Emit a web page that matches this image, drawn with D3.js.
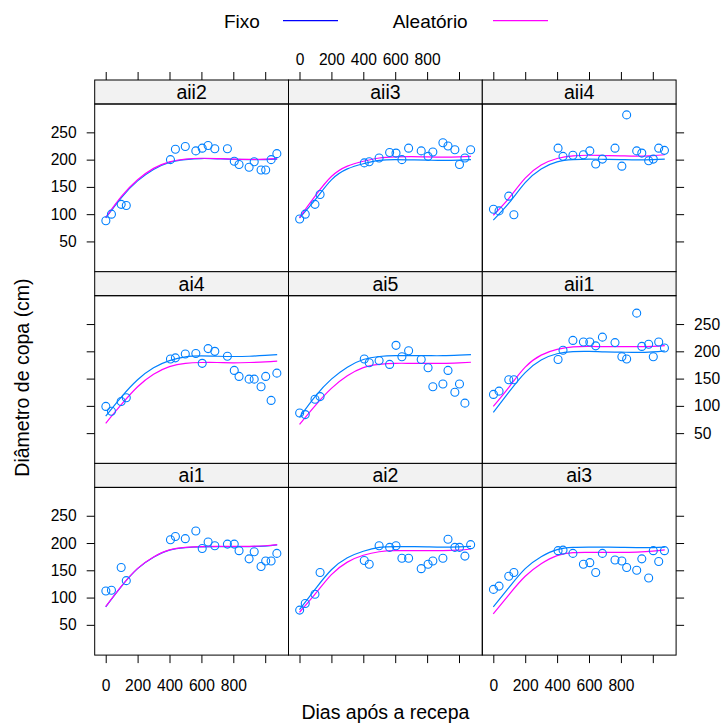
<!DOCTYPE html>
<html>
<head>
<meta charset="utf-8">
<script src="https://cdn.jsdelivr.net/npm/d3@7"></script>
<style>
  html, body { margin: 0; padding: 0; background: #fff; }
  svg { display: block; font-family: "Liberation Sans", Arial, Helvetica, sans-serif; }
</style>
</head>
<body>
<svg id="chart" width="725" height="723"></svg>
<script>
// ---------------- DATA ----------------
const panelNames = ["ai1", "ai2", "ai3", "ai4", "ai5", "aii1", "aii2", "aii3", "aii4"];
// layout rows from top
const panelRows = [["aii2", "aii3", "aii4"], ["ai4", "ai5", "aii1"], ["ai1", "ai2", "ai3"]];

const days = [1, 36, 97, 129, 406, 437, 499, 565, 605, 642, 684, 763, 806, 836, 899, 931, 974, 1003, 1037, 1073];

const obs_ai1  = [112, 113.5, 155, 131, 206, 212, 208, 222, 190, 202, 195, 198, 198, 186, 171, 184, 157, 167, 167, 181];
const obs_ai2  = [77, 89, 106, 146, 168, 161, 195, 192, 195, 172, 172, 153, 161, 167, 172, 207, 192, 192, 176, 197];
const obs_ai3  = [115, 121, 139, 146, 186, 187, 181, 161, 164, 146, 181, 169, 167, 155, 150, 171, 136, 186, 166, 186];
const obs_ai4  = [99, 90, 108, 115, 186, 188, 195, 196, 178, 205, 200, 191, 165, 154, 149, 149, 135, 154, 110, 160];
const obs_ai5  = [87, 84, 112, 117, 186, 179, 183, 176, 211, 190, 201, 185, 170, 135, 140, 165, 125, 140, 105, null];
const obs_aii1 = [121, 127, 148, 148, 185, 202, 220, 217, 217, 210, 226, 216, 190, 186, 270, 209, 213, 190, 217, 206];
const obs_aii2 = [88, 100, 118, 116, 200, 219, 224, 216, 221, 226, 220, 220, 197, 191, 186, 196, 181, 181, 200, 211];
const obs_aii3 = [91, 100, 118, 136, 194, 196, 203, 213, 212, 200, 221, 216, 206, 214, 231, 225, 218, 191, 203, 218];
const obs_aii4 = [109, 106, 133, 99, 221, 206, 208, 209, 216, 192, 201, 221, 188, 282, 216, 212, 198, 201, 221, 217];

const curveDays = [0, 100, 200, 300, 400, 500, 600, 700, 800, 900, 1000, 1075];

const fixo_ai1  = [83, 121, 153, 174, 187, 191.5, 193, 193.5, 193.5, 193.5, 194.5, 196.5];
const fixo_ai2  = [78, 116, 151, 173, 185, 192, 193.5, 193.5, 193, 192.5, 193, 194];
const fixo_ai3  = [83, 119, 153, 175, 188, 192, 192.5, 192.5, 192, 191.5, 191.5, 192.5];
const fixo_ai4  = [81, 117, 148, 170, 183, 190, 191.5, 191, 190.5, 191, 192.5, 194];
const fixo_ai5  = [79, 118, 149, 171, 185, 190.5, 192, 192, 192, 192, 193, 194];
const fixo_aii1 = [88, 126, 161, 184, 195.5, 199.5, 200, 199, 198.5, 198, 199, 201];
const fixo_aii2 = [93, 131, 161, 182, 195, 200, 202, 201.5, 200.5, 200, 200, 201];
const fixo_aii3 = [93, 127, 163, 183, 192.5, 198.5, 200, 199.5, 199, 198.5, 199, 200];
const fixo_aii4 = [89, 121, 158, 183, 196, 200, 201, 200.5, 200, 199.5, 200, 201];

const aleat_ai1  = [83.5, 121.5, 153.5, 174.5, 187.5, 192, 193.5, 194, 194, 194, 195, 197];
const aleat_ai2  = [73, 107, 142, 165, 177.5, 184, 186, 186, 186, 186, 187, 189];
const aleat_ai3  = [70, 106, 139, 162, 177, 182.5, 183, 183, 183, 183.5, 185, 187.5];
const aleat_ai4  = [68, 103, 135, 158, 172, 178, 179.5, 179.5, 179, 179.5, 180.5, 182];
const aleat_ai5  = [66, 101, 132, 155, 170, 176, 178, 178, 178, 178, 179, 180];
const aleat_aii1 = [99, 135, 171, 193, 203.5, 208, 209, 208.5, 208.5, 208.5, 209, 210.5];
const aleat_aii2 = [94, 133, 163, 184, 196, 201, 202.5, 202, 201, 200.5, 201, 202];
const aleat_aii3 = [94, 134, 169, 188, 197, 203, 205, 205.5, 205, 204.5, 205, 206];
const aleat_aii4 = [98, 130, 166, 190, 202, 207, 208, 207.5, 207, 206.5, 207.5, 209];

const xTickValues = [0, 200, 400, 600, 800, 1000];
const xTickLabels = ["0", "200", "400", "600", "800", ""];
const yTickValues = [50, 100, 150, 200, 250];
const yTickLabels = ["50", "100", "150", "200", "250"];

const legendLabels = ["Fixo", "Aleatório"];
const xTitle = "Dias após a recepa";
const yTitle = "Diâmetro de copa (cm)";

// ---------------- TABLES ----------------
const obsByPanel = {ai1: obs_ai1, ai2: obs_ai2, ai3: obs_ai3, ai4: obs_ai4, ai5: obs_ai5,
  aii1: obs_aii1, aii2: obs_aii2, aii3: obs_aii3, aii4: obs_aii4};
const fixoByPanel = {ai1: fixo_ai1, ai2: fixo_ai2, ai3: fixo_ai3, ai4: fixo_ai4, ai5: fixo_ai5,
  aii1: fixo_aii1, aii2: fixo_aii2, aii3: fixo_aii3, aii4: fixo_aii4};
const aleatByPanel = {ai1: aleat_ai1, ai2: aleat_ai2, ai3: aleat_ai3, ai4: aleat_ai4, ai5: aleat_ai5,
  aii1: aleat_aii1, aii2: aleat_aii2, aii3: aleat_aii3, aii4: aleat_aii4};

// ---------------- LAYOUT ----------------
const colX0 = 94.7, colW = 193.8;
const rowY0 = 80, rowH = 191.7, stripH = 24;
const xDomain = [-69, 1146];
const yDomain = [-5.5, 302];
const tickFont = 15.6, mainFont = 19.5;
const pointColor = "#0080ff", fixoColor = "#0080ff", aleatColor = "#ff00ff", legendFixo = "#0000ff";

const svg = d3.select("#chart");

const xScales = [0, 1, 2].map(c => d3.scaleLinear().domain(xDomain).range([colX0 + c * colW, colX0 + (c + 1) * colW]));
const yScales = [0, 1, 2].map(r => d3.scaleLinear().domain(yDomain).range([rowY0 + (r + 1) * rowH, rowY0 + r * rowH + stripH]));

const line = (xs, ys) => d3.line()
  .x(d => xs(d[0])).y(d => ys(d[1]))
  .curve(d3.curveNatural);

panelRows.forEach((row, r) => {
  row.forEach((name, c) => {
    const xs = xScales[c], ys = yScales[r];
    const x0 = colX0 + c * colW, y0 = rowY0 + r * rowH;
    const g = svg.append("g");
    // clip
    const clipId = "clip_" + name;
    svg.append("clipPath").attr("id", clipId).append("rect")
      .attr("x", x0).attr("y", y0 + stripH).attr("width", colW).attr("height", rowH - stripH);
    const inner = g.append("g").attr("clip-path", `url(#${clipId})`);

    const fit1 = curveDays.map((d, i) => [d, fixoByPanel[name][i]]);
    const fit2 = curveDays.map((d, i) => [d, aleatByPanel[name][i]]);
    inner.append("path").attr("d", line(xs, ys)(fit1)).attr("fill", "none")
      .attr("stroke", fixoColor).attr("stroke-width", 1.2);
    inner.append("path").attr("d", line(xs, ys)(fit2)).attr("fill", "none")
      .attr("stroke", aleatColor).attr("stroke-width", 1.2);

    const pts = days.map((d, i) => [d, obsByPanel[name][i]]).filter(p => p[1] != null);
    inner.selectAll("circle").data(pts).join("circle")
      .attr("cx", d => xs(d[0])).attr("cy", d => ys(d[1])).attr("r", 4)
      .attr("fill", "none").attr("stroke", pointColor).attr("stroke-width", 1.1);

    // strip
    g.append("rect").attr("x", x0).attr("y", y0).attr("width", colW).attr("height", stripH)
      .attr("fill", "#f2f2f2").attr("stroke", "#000").attr("stroke-width", 1);
    g.append("text").attr("x", x0 + colW / 2).attr("y", y0 + stripH / 2 + 7)
      .attr("text-anchor", "middle").attr("font-size", mainFont).attr("fill", "#000").text(name);
    // panel border
    g.append("rect").attr("x", x0).attr("y", y0 + stripH).attr("width", colW).attr("height", rowH - stripH)
      .attr("fill", "none").attr("stroke", "#000").attr("stroke-width", 1);
  });
});

function styleAxis(sel) {
  sel.select(".domain").remove();
  sel.selectAll(".tick line").attr("stroke", "#000").attr("stroke-width", 1);
  sel.selectAll(".tick text").attr("font-size", tickFont).attr("fill", "#000")
    .attr("font-family", "Liberation Sans, Arial, sans-serif");
}

const bottomY = rowY0 + 3 * rowH;
[0, 1, 2].forEach(c => {
  // top axis
  const topLab = c === 1;
  const gt = svg.append("g").attr("transform", `translate(0,${rowY0})`)
    .call(d3.axisTop(xScales[c]).tickValues(xTickValues).tickSize(8).tickPadding(7)
      .tickFormat((d, i) => topLab ? xTickLabels[i] : ""));
  styleAxis(gt);
  // bottom axis
  const botLab = c !== 1;
  const gb = svg.append("g").attr("transform", `translate(0,${bottomY})`)
    .call(d3.axisBottom(xScales[c]).tickValues(xTickValues).tickSize(8).tickPadding(17)
      .tickFormat((d, i) => botLab ? xTickLabels[i] : ""));
  styleAxis(gb);
});

const rightX = colX0 + 3 * colW;
[0, 1, 2].forEach(r => {
  const leftLab = r !== 1;
  const gl = svg.append("g").attr("transform", `translate(${colX0},0)`)
    .call(d3.axisLeft(yScales[r]).tickValues(yTickValues).tickSize(8).tickPadding(10)
      .tickFormat((d, i) => leftLab ? yTickLabels[i] : ""));
  styleAxis(gl);
  const rightLab = r === 1;
  const gr = svg.append("g").attr("transform", `translate(${rightX},0)`)
    .call(d3.axisRight(yScales[r]).tickValues(yTickValues).tickSize(8).tickPadding(10)
      .tickFormat((d, i) => rightLab ? yTickLabels[i] : ""));
  styleAxis(gr);
});

// titles
svg.append("text").attr("x", colX0 + 1.5 * colW).attr("y", 719)
  .attr("text-anchor", "middle").attr("font-size", mainFont).attr("fill", "#000").text(xTitle);
svg.append("text").attr("transform", `translate(29,${rowY0 + 1.5 * rowH + 10}) rotate(-90)`)
  .attr("text-anchor", "middle").attr("font-size", mainFont).attr("fill", "#000").text(yTitle);

// legend
const legendItems = [
  {label: legendLabels[0], color: legendFixo, tx: 224, lx: 283},
  {label: legendLabels[1], color: aleatColor, tx: 392.7, lx: 493}
];
const lg = svg.append("g");
legendItems.forEach(it => {
  lg.append("text").attr("x", it.tx).attr("y", 28).attr("font-size", 19)
    .attr("fill", "#000").text(it.label);
  lg.append("line").attr("x1", it.lx).attr("x2", it.lx + 55).attr("y1", 20.7).attr("y2", 20.7)
    .attr("stroke", it.color).attr("stroke-width", 1.2);
});
</script>
</body>
</html>
